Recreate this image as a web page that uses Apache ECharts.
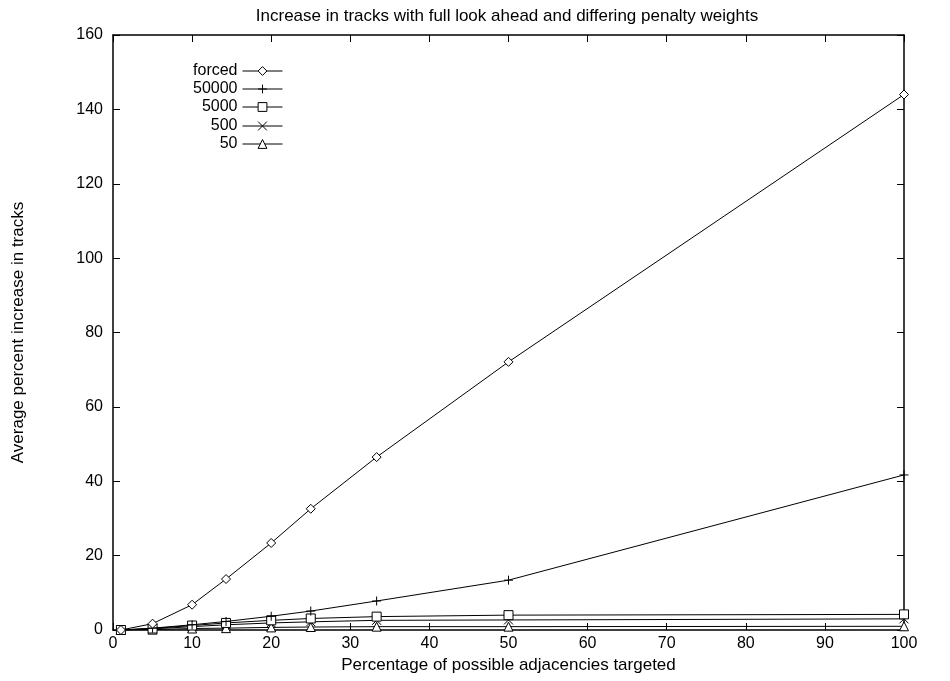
<!DOCTYPE html>
<html>
<head>
<meta charset="utf-8">
<script src="https://cdn.jsdelivr.net/npm/echarts@6/dist/echarts.min.js"></script>
<style>html,body{margin:0;padding:0;background:#fff}#c{width:950px;height:681px}</style>
</head>
<body>
<div id="c"></div>
<script>
const xValues = [1, 5, 10, 14.29, 20, 25, 33.33, 50, 100];
const seriesNames = ['forced', '50000', '5000', '500', '50'];
const forced = [0, 1.7, 6.8, 13.7, 23.4, 32.6, 46.5, 72.1, 144];
const w50000 = [0, 0.5, 1.4, 2.3, 3.7, 5.1, 7.8, 13.4, 41.7];
const w5000 = [0, 0.4, 1.2, 1.9, 2.6, 3.1, 3.6, 4.0, 4.2];
const w500 = [0, 0.3, 0.9, 1.4, 1.9, 2.2, 2.6, 2.7, 3.0];
const w50 = [0, 0.1, 0.4, 0.5, 0.7, 0.8, 0.9, 0.9, 1.0];
const xTicks = [0, 10, 20, 30, 40, 50, 60, 70, 80, 90, 100];
const yTicks = [0, 20, 40, 60, 80, 100, 120, 140, 160];

const FONT = 'Liberation Sans, Arial, Helvetica, sans-serif';
const symbols = [
  'diamond',
  'path://M5,0L5,10M0,5L10,5',
  'rect',
  'path://M0,0L10,10M10,0L0,10',
  'triangle'
];
const allValues = [forced, w50000, w5000, w500, w50];

function pairs(vals) { return xValues.map((x, i) => [x, vals[i]]); }

const chart = echarts.init(document.getElementById('c'), null, {renderer: 'canvas'});

const legendRows = [71, 89, 107, 126, 144];
const legends = seriesNames.map((n, i) => ({
  data: [n],
  right: 667,
  top: legendRows[i] - 9,
  orient: 'vertical',
  align: 'right',
  itemWidth: 40,
  itemHeight: 11,
  padding: 0,
  selectedMode: false,
  lineStyle: {width: 1, color: '#000'},
  itemStyle: {color: '#fff', borderColor: '#000', borderWidth: 1},
  textStyle: {fontFamily: FONT, fontSize: 16, color: '#000', lineHeight: 18}
}));

function axisBase() {
  return {
    type: 'value',
    axisLine: {show: true, onZero: false, lineStyle: {color: '#000', width: 1.5}},
    axisTick: {show: true, inside: true, length: 7, lineStyle: {color: '#000', width: 1}},
    splitLine: {show: false}
  };
}

chart.setOption({
  animation: false,
  backgroundColor: '#fff',
  title: {
    text: 'Increase in tracks with full look ahead and differing penalty weights',
    left: 502, top: 3, textAlign: 'center',
    textStyle: {fontFamily: FONT, fontSize: 17, fontWeight: 'normal', color: '#000'}
  },
  legend: legends,
  grid: {left: 113, right: 46, top: 35, bottom: 51},
  xAxis: [
    Object.assign(axisBase(), {
      min: xTicks[0], max: xTicks[xTicks.length - 1], interval: 10,
      position: 'bottom',
      name: 'Percentage of possible adjacencies targeted',
      nameLocation: 'middle', nameGap: 25,
      nameTextStyle: {fontFamily: FONT, fontSize: 17, color: '#000'},
      axisLabel: {fontFamily: FONT, fontSize: 16, color: '#000', margin: 6}
    }),
    Object.assign(axisBase(), {
      min: xTicks[0], max: xTicks[xTicks.length - 1], interval: 10,
      position: 'top', axisLabel: {show: false}
    })
  ],
  yAxis: [
    Object.assign(axisBase(), {
      min: yTicks[0], max: yTicks[yTicks.length - 1], interval: 20,
      position: 'left',
      name: 'Average percent increase in tracks',
      nameLocation: 'middle', nameGap: 86,
      nameTextStyle: {fontFamily: FONT, fontSize: 17, color: '#000'},
      axisLabel: {fontFamily: FONT, fontSize: 16, color: '#000', margin: 10}
    }),
    Object.assign(axisBase(), {
      min: yTicks[0], max: yTicks[yTicks.length - 1], interval: 20,
      position: 'right', axisLabel: {show: false}
    })
  ],
  series: seriesNames.map((n, i) => ({
    name: n,
    type: 'line',
    data: pairs(allValues[i]),
    symbol: symbols[i],
    symbolSize: 9,
    showAllSymbol: true,
    lineStyle: {color: '#000', width: 1},
    itemStyle: {color: '#fff', borderColor: '#000', borderWidth: 1},
    emphasis: {disabled: true},
    z: 10 - i
  }))
});
</script>
</body>
</html>
